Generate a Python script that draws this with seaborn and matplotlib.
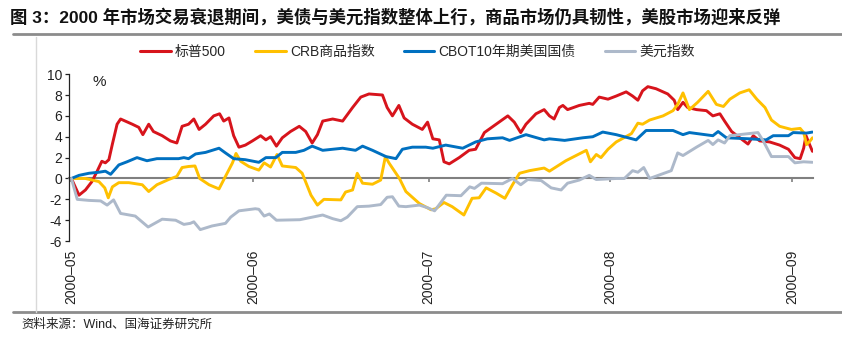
import pandas as pd
import matplotlib
matplotlib.use('Agg')
import matplotlib.pyplot as plt
import matplotlib.dates as mdates
from matplotlib.lines import Line2D
import seaborn as sns

# values (% change since 2000-05-01), x = days after start
sp_days = [0, 1.3, 2.4, 3.5, 4.4, 5.2, 5.8, 6.4, 7.0, 7.8,
           8.4, 9.2, 10.4, 11.5, 12.2, 13.2, 14.0, 15.5, 16.9, 18.0,
           18.9, 20.0, 20.9, 21.8, 22.9, 24.3, 25.3, 26.0, 26.9, 27.7,
           28.6, 29.7, 30.9, 32.3, 33.2, 34.0, 35.0, 36.0, 37.4, 38.9,
           40.0, 41.1, 42.0, 42.9, 44.6, 46.3, 48.0, 49.4, 50.8, 53.1,
           53.9, 54.8, 55.9, 56.8, 58.2, 59.9, 60.8, 61.7, 62.8, 63.6,
           64.5, 66.2, 67.9, 69.0, 70.5, 72.5, 74.5, 75.6, 76.7, 77.6,
           79.3, 80.7, 81.6, 82.4, 83.3, 83.9, 84.7, 86.7, 88.4, 89.0,
           90.1, 91.6, 93.0, 94.7, 95.8, 96.7, 97.5, 98.4, 99.8, 101.8,
           102.9, 103.5, 104.4, 105.2, 106.7, 108.4, 109.5, 110.7, 111.5, 112.7,
           114.1, 115.5, 116.4, 117.5, 119.2, 120.9, 122.4, 123.5, 124.4, 125.0,
           125.4, 125.9, 126.5]
sp_vals = [0, -1.6, -1.1, -0.3, 0.7, 1.65, 1.5, 1.8, 3.3, 5.2,
           5.7, 5.5, 5.2, 4.9, 4.2, 5.2, 4.5, 4.1, 3.6, 3.4,
           5.0, 5.2, 5.7, 4.7, 5.2, 6.0, 6.2, 5.5, 5.8, 4.1,
           3.0, 3.2, 3.6, 4.1, 3.7, 4.0, 3.1, 3.9, 4.5, 5.0,
           4.5, 3.4, 4.2, 5.5, 5.7, 5.5, 6.8, 7.8, 8.1, 8.0,
           6.8, 6.0, 7.0, 5.8, 5.2, 4.7, 5.4, 3.8, 3.7, 1.6,
           1.4, 2.0, 2.7, 2.8, 4.4, 5.2, 6.0, 5.4, 4.4, 5.2,
           6.2, 6.6, 6.0, 5.7, 6.8, 7.0, 6.6, 7.0, 7.2, 7.1,
           7.8, 7.6, 7.9, 8.3, 7.9, 7.5, 8.4, 8.8, 8.6, 8.1,
           7.5, 6.6, 7.3, 6.8, 6.6, 6.5, 6.0, 6.2, 5.5, 4.5,
           3.9, 3.3, 4.1, 3.6, 3.5, 3.2, 2.8, 2.0, 1.9, 2.9,
           4.1, 3.4, 2.6]

crb_days = [0, 2.4, 4.7, 5.7, 6.3, 7.0, 8.1, 9.8, 12.1, 13.2,
            14.6, 16.6, 18.0, 18.9, 20.0, 21.1, 21.9, 23.5, 25.2, 26.3,
            27.5, 28.1, 28.9, 30.3, 32.0, 32.9, 34.0, 35.1, 36.0, 38.3,
            39.4, 40.9, 42.0, 43.1, 46.0, 46.8, 48.0, 48.8, 49.7, 51.4,
            52.8, 53.6, 54.2, 56.0, 57.1, 59.4, 61.4, 62.2, 63.6, 65.0,
            67.0, 68.4, 69.6, 70.8, 72.5, 74.0, 75.3, 76.5, 78.2, 80.7,
            81.6, 84.4, 87.9, 88.6, 89.6, 90.4, 91.6, 93.0, 95.6, 96.7,
            97.5, 98.7, 101.0, 102.7, 103.5, 104.4, 105.5, 106.9, 108.7, 110.1,
            111.3, 112.4, 114.1, 115.7, 117.0, 118.4, 119.5, 120.9, 122.9, 124.4,
            125.0, 125.5, 126.1, 126.5]
crb_vals = [0, 0, -0.3, -0.9, -1.85, -0.8, -0.4, -0.4, -0.6, -1.25,
            -0.6, -0.1, 0.2, 1.05, 1.15, 1.2, 0, -0.6, -1.0, 0.2,
            1.5, 2.4, 1.65, 1.15, 0.8, 1.5, 1.1, 2.3, 1.2, 1.05,
            0.5, -1.6, -2.55, -2.0, -2.05, -1.3, -1.1, 0.5, -0.45, -0.55,
            -0.15, 2.1, 1.5, 0, -1.25, -2.4, -3.0, -2.9, -2.3, -2.7,
            -3.5, -1.9, -1.85, -0.9, -1.4, -1.9, -0.6, 0.5, 0.75, 1.0,
            0.7, 1.7, 2.7, 1.6, 2.3, 2.0, 2.8, 3.5, 4.3, 5.3,
            5.2, 5.6, 6.0, 6.5, 7.1, 8.2, 6.6, 7.3, 8.35, 7.1,
            6.9, 7.6, 8.2, 8.5, 7.6, 6.8, 5.6, 5.0, 4.7, 4.8,
            4.4, 3.25, 3.6, 3.9]

bond_days = [0, 1.3, 3.0, 4.7, 5.8, 6.7, 8.1, 9.5, 11.2, 12.9,
             14.6, 16.6, 18.3, 19.2, 20.0, 21.2, 22.9, 25.2, 26.3, 27.7,
             29.7, 32.0, 33.2, 34.9, 36.0, 38.3, 39.7, 41.1, 42.9, 46.3,
             48.5, 49.7, 51.4, 53.7, 55.4, 56.5, 58.2, 60.5, 61.7, 63.9,
             66.8, 69.0, 71.0, 73.6, 74.8, 77.6, 80.7, 81.6, 84.2, 87.3,
             89.0, 90.7, 93.0, 96.4, 98.1, 102.7, 104.4, 105.5, 109.5, 110.4,
             111.8, 115.8, 118.6, 119.8, 122.4, 123.2, 125.5, 126.5]
bond_vals = [0, 0.3, 0.5, 0.6, 0.7, 0.4, 1.3, 1.6, 2.0, 1.7,
             1.9, 1.9, 1.9, 2.0, 1.9, 2.35, 2.5, 2.9, 2.45, 1.9,
             1.8, 1.55, 2.0, 2.0, 2.5, 2.5, 2.7, 3.1, 2.7, 2.9,
             2.7, 3.1, 2.7, 2.1, 1.9, 2.8, 3.0, 3.0, 2.9, 3.2,
             2.9, 3.5, 3.8, 3.9, 3.65, 4.2, 3.7, 3.8, 3.65, 3.9,
             4.0, 4.45, 4.2, 3.7, 4.6, 4.6, 4.2, 4.4, 4.1, 4.5,
             3.9, 3.8, 3.7, 4.1, 4.1, 4.4, 4.35, 4.45]

usd_days = [0, 1.0, 3.0, 5.0, 6.1, 7.2, 8.4, 10.9, 13.1, 15.5,
            17.8, 19.2, 20.3, 20.9, 22.0, 24.0, 26.3, 27.2, 28.6, 31.4,
            32.0, 32.9, 33.8, 35.0, 39.0, 42.9, 44.6, 46.0, 47.1, 48.8,
            50.8, 52.8, 53.9, 54.8, 55.9, 57.1, 59.4, 60.8, 62.0, 64.0,
            66.5, 68.0, 68.8, 70.0, 73.6, 75.3, 76.7, 77.9, 80.2, 81.9,
            83.6, 84.7, 86.7, 88.4, 89.6, 93.0, 94.4, 95.8, 96.7, 97.7,
            98.7, 102.4, 103.5, 104.4, 106.7, 108.7, 109.5, 110.4, 111.5, 112.4,
            117.2, 118.1, 119.5, 122.4, 123.5, 125.0, 126.5]
usd_vals = [0, -2.0, -2.1, -2.15, -2.55, -2.05, -3.35, -3.6, -4.65, -3.9,
            -4.0, -4.4, -4.3, -4.15, -4.9, -4.55, -4.3, -3.7, -3.1, -2.9,
            -2.95, -3.6, -3.4, -4.0, -3.95, -3.5, -3.85, -4.05, -3.7, -2.7,
            -2.65, -2.5, -1.8, -1.75, -2.65, -2.7, -2.55, -2.8, -3.1, -1.6,
            -1.65, -0.8, -0.95, -0.45, -0.5, 0, -0.6, -0.1, -0.2, -0.9,
            -1.1, -0.45, -0.15, 0.3, -0.1, 0, 0, 0.75, 0.6, 1.05,
            0, 0.75, 2.45, 2.2, 3.0, 3.65, 3.25, 3.7, 3.4, 4.1,
            4.4, 3.6, 2.1, 2.1, 1.5, 1.6, 1.55]

names = ['标普500', 'CRB商品指数', 'CBOT10年期美国国债', '美元指数']
colors = ['#d7141c', '#ffc000', '#0070c0', '#adb9ca']
start = pd.Timestamp('2000-05-01')

frames = []
for name, d, v in zip(names, [sp_days, crb_days, bond_days, usd_days],
                      [sp_vals, crb_vals, bond_vals, usd_vals]):
    frames.append(pd.DataFrame({'date': start + pd.to_timedelta(d, unit='D'),
                                'value': v, 'series': name}))
df = pd.concat(frames, ignore_index=True)

sns.set_theme(style='white')
plt.rcParams['font.family'] = ['Liberation Sans', 'Noto Sans CJK SC', 'DejaVu Sans']
plt.rcParams['axes.unicode_minus'] = False

fig = plt.figure(figsize=(8.42, 3.53), dpi=100)
ax = fig.add_axes([0.082, 0.317, 0.8836, 0.473])

sns.lineplot(data=df, x='date', y='value', hue='series', hue_order=names,
             palette=colors, linewidth=2.1, estimator=None, legend=False, ax=ax)

ax.set_ylim(-6, 10)
ax.set_yticks(range(-6, 11, 2))
ax.set_xlim(start - pd.Timedelta(days=0.4), start + pd.Timedelta(days=126.6))
ax.set_xlabel('')
ax.set_ylabel('')

ax.xaxis.set_major_locator(mdates.MonthLocator())
ax.xaxis.set_major_formatter(mdates.DateFormatter('%Y–%m'))

for s in ['top', 'right']:
    ax.spines[s].set_visible(False)
ax.spines['left'].set_color('#222222')
ax.spines['left'].set_linewidth(0.9)
ax.spines['bottom'].set_position(('data', 0))
ax.spines['bottom'].set_color('#808080')
ax.spines['bottom'].set_linewidth(1.5)
ax.spines['bottom'].set_zorder(1.5)

ax.tick_params(axis='y', left=True, direction='out', length=3, width=0.9,
               color='#222222', labelsize=10, labelcolor='#222222', pad=2)
ax.tick_params(axis='x', bottom=True, direction='out', length=3, width=1.2,
               color='#808080', labelsize=10, labelcolor='#222222',
               labelrotation=90, pad=48)

ax.text(0.032, 0.995, '%', transform=ax.transAxes, fontsize=11,
        ha='left', va='top', color='#222222')

handles = [Line2D([], [], color=c, lw=2.2) for c in colors]
fig.legend(handles, names, ncol=4, loc='center', bbox_to_anchor=(0.496, 0.853),
           frameon=False, fontsize=10, handlelength=2.2, handletextpad=0.3,
           columnspacing=2.1)

fig.text(0.012, 0.953, '图 3：2000 年市场交易衰退期间，美债与美元指数整体上行，商品市场仍具韧性，美股市场迎来反弹',
         fontsize=12.5, fontweight='bold', ha='left', va='center', color='#111111')
fig.text(0.026, 0.079, '资料来源：Wind、国海证券研究所', fontsize=9,
         ha='left', va='center', color='#222222')

fig.add_artist(Line2D([0.015, 1.0], [0.903, 0.903], color='#8c8c8c', lw=2,
                      transform=fig.transFigure))
fig.add_artist(Line2D([0.015, 1.0], [0.116, 0.116], color='#8c8c8c', lw=2,
                      transform=fig.transFigure))
fig.add_artist(Line2D([0.043, 0.043], [0.116, 0.895], color='#d9d9d9', lw=1,
                      transform=fig.transFigure))

fig.savefig('out.png', dpi=100)
